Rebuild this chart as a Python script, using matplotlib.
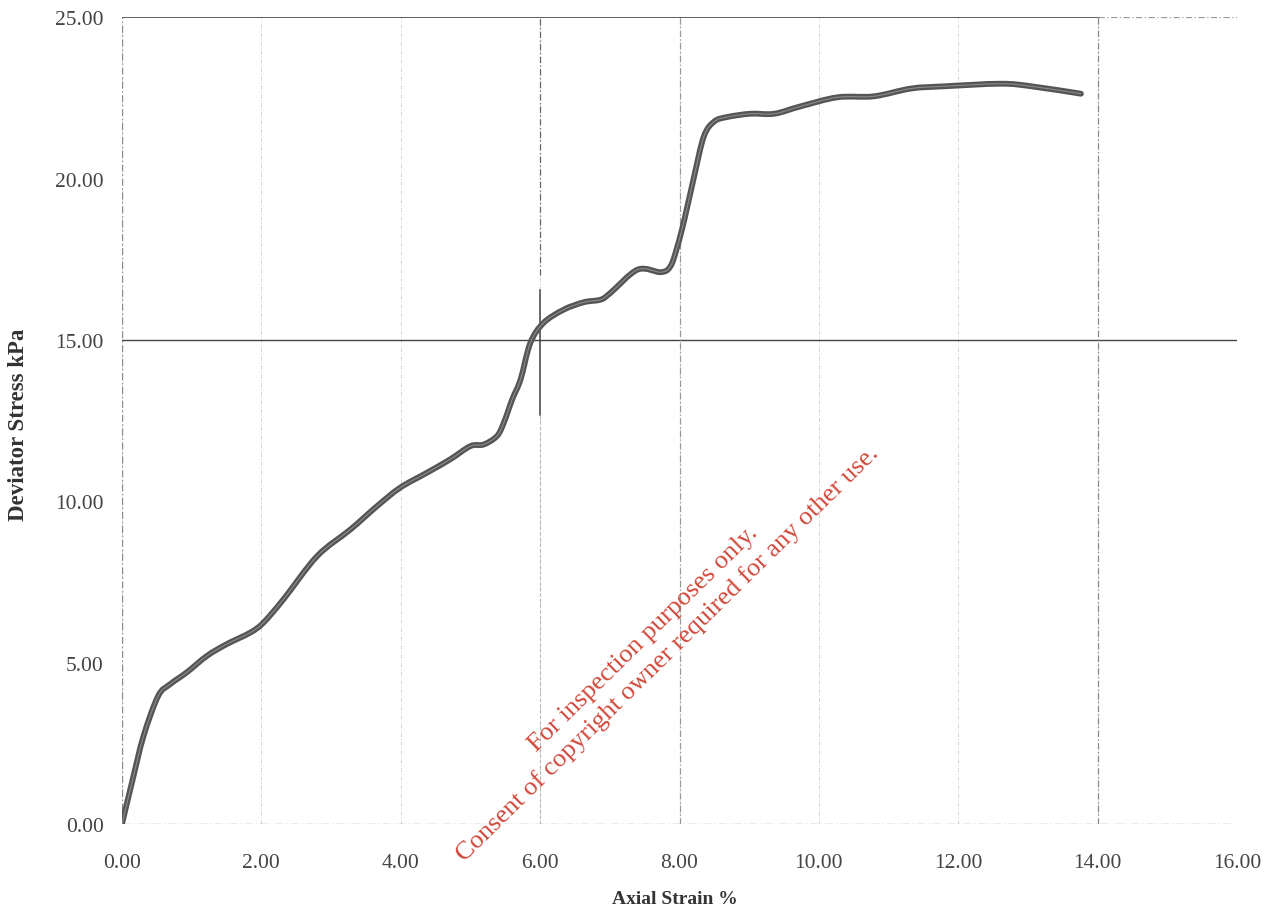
import matplotlib
matplotlib.use("Agg")
import matplotlib.pyplot as plt
from matplotlib.path import Path
from matplotlib.patches import PathPatch
import numpy as np

# Data
strain = [0, 0.15, 0.31, 0.52, 0.69, 0.93, 1.22, 1.50, 1.84, 2.03, 2.32, 2.80,
          3.28, 3.66, 3.99, 4.38, 4.71, 5.00, 5.19, 5.38, 5.48, 5.60, 5.72, 5.86,
          6.05, 6.34, 6.63, 6.87, 7.01, 7.40, 7.73, 7.87, 7.97, 8.07, 8.21, 8.35,
          8.50, 8.69, 9.02, 9.36, 9.74, 10.27, 10.79, 11.32, 11.80, 12.61, 13.05, 13.76]
stress = [0, 1.35, 2.73, 3.97, 4.33, 4.70, 5.21, 5.57, 5.93, 6.24, 6.97, 8.30,
          9.13, 9.85, 10.42, 10.89, 11.30, 11.71, 11.76, 12.02, 12.44, 13.16, 13.78, 14.91,
          15.53, 15.94, 16.17, 16.25, 16.46, 17.18, 17.10, 17.28, 17.90, 18.73, 20.07, 21.31,
          21.77, 21.91, 22.01, 22.01, 22.24, 22.52, 22.55, 22.79, 22.86, 22.94, 22.86, 22.63]

x_ticks = [0, 2, 4, 6, 8, 10, 12, 14, 16]
y_ticks = [0, 5, 10, 15, 20, 25]
x_label = "Axial Strain %"
y_label = "Deviator Stress kPa"
watermark1 = "For inspection purposes only."
watermark2 = "Consent of copyright owner required for any other use."

serif = ["Liberation Serif", "DejaVu Serif"]

fig = plt.figure(figsize=(12.72, 9.12), dpi=100)
ax = fig.add_axes([0.0959, 0.0954, 0.8766, 0.8846])
ax.set_xlim(0, 16)
ax.set_ylim(0, 25)

for s in ax.spines.values():
    s.set_visible(False)

# faint grid lines (scanned look)
for xv in x_ticks:
    ax.axvline(xv, color="#d4d4d4", lw=0.7, ls=(0, (4, 2, 1, 2)), zorder=1)
# darker grid lines visible in the scan
ax.axhline(25, xmax=14 / 16, color="#333333", lw=1.1, zorder=1)
ax.axhline(25, xmin=14 / 16, color="#9a9a9a", lw=0.9, ls=(0, (5, 2, 1, 2)), zorder=1)
ax.axhline(15, color="#444444", lw=1.0, zorder=1)
ax.axhline(0, color="#a0a0a0", lw=1.0, ls=(0, (6, 2, 1, 2)), zorder=1)
ax.axvline(0, color="#8a8a8a", lw=1.0, ls=(0, (5, 2, 1, 2)), zorder=1)
ax.axvline(6, ymin=17 / 25, color="#666666", lw=0.9, ls=(0, (5, 2, 1, 2)), zorder=1)
ax.axvline(6, ymin=12.66 / 25, ymax=16.56 / 25, color="#444444", lw=1.1, zorder=1)
ax.axvline(6, ymax=12.66 / 25, color="#b8b8b8", lw=0.8, ls=(0, (3, 2)), zorder=1)
ax.axvline(8, color="#999999", lw=0.9, ls=(0, (5, 2, 1, 2)), zorder=1)
ax.axvline(14, color="#888888", lw=0.9, ls=(0, (5, 2, 1, 2)), zorder=1)

# smoothed curve (Excel-style smoothed line through the data points)
P = np.column_stack([strain, stress])
Pext = np.vstack([P[0], P, P[-1]])
verts = [P[0]]
codes = [Path.MOVETO]
for i in range(1, len(Pext) - 2):
    p0, p1, p2, p3 = Pext[i - 1], Pext[i], Pext[i + 1], Pext[i + 2]
    c1 = p1 + (p2 - p0) / 6.0
    c2 = p2 - (p3 - p1) / 6.0
    verts += [c1, c2, p2]
    codes += [Path.CURVE4] * 3
path = Path(verts, codes)
ax.add_patch(PathPatch(path, fill=False, edgecolor="#555555", lw=4.2,
                       capstyle="round", joinstyle="round", zorder=3))
ax.add_patch(PathPatch(path, fill=False, edgecolor="#8c8c8c", lw=0.8, zorder=4))

ax.set_xticks(x_ticks)
ax.set_yticks(y_ticks)
ax.set_xticklabels([f"{v:.2f}" for v in x_ticks], family=serif, fontsize=15.5, color="#444444")
ax.set_yticklabels([f"{v:.2f}" for v in y_ticks], family=serif, fontsize=15.5, color="#444444")
ax.tick_params(axis="both", length=0)
ax.tick_params(axis="x", pad=21)
ax.tick_params(axis="y", pad=13)

ax.set_xlabel(x_label, family=serif, fontsize=14, fontweight="bold", color="#333333",
              va="center", ha="center")
ax.xaxis.set_label_coords((675 - 122) / 1115, -(900 - 825) / 807)
ax.set_ylabel(y_label, family=serif, fontsize=16.5, fontweight="bold", color="#333333",
              va="center", ha="center")
ax.yaxis.set_label_coords(-(122 - 19) / 1115, (825 - 425) / 807)

# watermark
wm_color = "#d0483a"
fig.text(643 / 1272, 1 - 639 / 912, watermark1, family=serif, fontsize=19, color=wm_color,
         rotation=44.5, ha="center", va="center", rotation_mode="anchor")
fig.text(667 / 1272, 1 - 654 / 912, watermark2, family=serif, fontsize=19, color=wm_color,
         rotation=44.5, ha="center", va="center", rotation_mode="anchor")

fig.savefig("out.png", dpi=100, facecolor="white")
